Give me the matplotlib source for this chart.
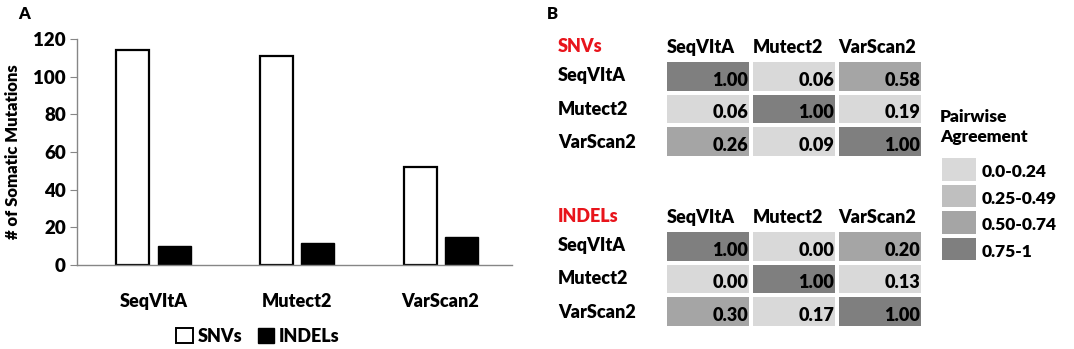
"""Somatic mutation counts and pairwise caller agreement."""

import matplotlib
matplotlib.use("Agg")
import matplotlib.pyplot as plt
import numpy as np
from matplotlib.colors import ListedColormap
from matplotlib.patches import Patch

plt.rcParams["font.family"] = ["Lato", "DejaVu Sans"]
BOLD = 800
plt.rcParams["font.weight"] = BOLD

callers = ["SeqVItA", "Mutect2", "VarScan2"]
snv_counts = [114, 111, 52]
indel_counts = [10, 11.5, 15]

snv_agree = np.array([[1.00, 0.06, 0.58],
                      [0.06, 1.00, 0.19],
                      [0.26, 0.09, 1.00]])
indel_agree = np.array([[1.00, 0.00, 0.20],
                        [0.00, 1.00, 0.13],
                        [0.30, 0.17, 1.00]])
# shade level as drawn in the figure (0 = lightest, 3 = darkest)
snv_level = np.array([[3, 0, 2],
                      [0, 3, 0],
                      [2, 0, 3]])
indel_level = np.array([[3, 0, 2],
                        [0, 3, 0],
                        [2, 0, 3]])
legend_bins = ["0.0-0.24", "0.25-0.49", "0.50-0.74", "0.75-1"]
shades = ["#d9d9d9", "#bfbfbf", "#a5a5a5", "#7f7f7f"]

W, H = 1074, 349
fig = plt.figure(figsize=(W / 100, H / 100), dpi=100)


def px_axes(x0, y0, x1, y1):
    """Axes from pixel box (top-left origin)."""
    return fig.add_axes([x0 / W, 1 - y1 / H, (x1 - x0) / W, (y1 - y0) / H])


# ---- Panel A: bar chart ----
ax = px_axes(77, 39, 512, 265)
x = np.arange(len(callers))
w = 0.23
ax.bar(x - 0.143, snv_counts, w, color="white", edgecolor="black", linewidth=1.6)
ax.bar(x + 0.143, indel_counts, w, color="black", edgecolor="black", linewidth=1.0)
ax.set_xlim(-0.533, 2.498)
ax.set_ylim(0, 120)
ax.set_yticks(range(0, 121, 20))
ax.set_xticks(x)
ax.set_xticklabels(callers, fontsize=13, fontweight=BOLD)
ax.tick_params(axis="x", length=0, pad=20)
ax.tick_params(axis="y", labelsize=13.5, length=5, color="#868686", pad=3)
for lab in ax.get_yticklabels():
    lab.set_fontweight(BOLD)
for s in ["top", "right"]:
    ax.spines[s].set_visible(False)
for s in ["left", "bottom"]:
    ax.spines[s].set_color("#868686")
    ax.spines[s].set_linewidth(1.0)
ax.set_ylabel("# of Somatic Mutations", fontsize=12, fontweight=BOLD, labelpad=9)

handles = [Patch(facecolor="white", edgecolor="black", linewidth=1.4, label="SNVs"),
           Patch(facecolor="black", edgecolor="black", label="INDELs")]
fig.legend(handles=handles, loc="center", bbox_to_anchor=(258 / W, 1 - 336 / H),
           ncol=2, frameon=False, fontsize=13, handlelength=0.9, handleheight=0.9,
           handletextpad=0.25, columnspacing=0.9)

fig.text(18 / W, 1 - 14 / H, "A", fontsize=12, fontweight=BOLD, va="center", ha="left")
fig.text(547 / W, 1 - 14 / H, "B", fontsize=12, fontweight=BOLD, va="center", ha="left")

# ---- Panel B: agreement tables ----
cmap = ListedColormap(shades)


def agreement_table(top, title, values, level):
    hax = px_axes(665, top, 923, top + 98)
    hax.pcolormesh(level, cmap=cmap, vmin=-0.5, vmax=3.5,
                   edgecolors="white", linewidth=1.5)
    hax.set_xlim(0, 3)
    hax.set_ylim(3, 0)
    hax.axis("off")
    for i in range(3):
        for j in range(3):
            hax.text(j + 0.97, i + 0.62, f"{values[i, j]:.2f}", ha="right", va="center",
                     fontsize=13, fontweight=BOLD)
        hax.text(i + 0.02, -0.38, callers[i], ha="left", va="center",
                 fontsize=13, fontweight=BOLD)
        fig.text(558 / W, 1 - (top + 16 + 33 * i) / H, callers[i], ha="left", va="center",
                 fontsize=13, fontweight=BOLD)
    fig.text(558 / W, 1 - (top - 13) / H, title, ha="left", va="center",
             fontsize=13, fontweight=BOLD, color="#e8141b")


agreement_table(60, "SNVs", snv_agree, snv_level)
agreement_table(230, "INDELs", indel_agree, indel_level)

# legend for shades
lax = px_axes(940, 156, 978, 262)
lax.pcolormesh(np.arange(4).reshape(4, 1), cmap=cmap, vmin=-0.5, vmax=3.5,
               edgecolors="white", linewidth=1.5)
lax.set_xlim(0, 1)
lax.set_ylim(4, 0)
lax.axis("off")
for k, lab in enumerate(legend_bins):
    lax.text(1.1, k + 0.62, lab, ha="left", va="center", fontsize=12.5, fontweight=BOLD)
fig.text(940 / W, 1 - 117 / H, "Pairwise", ha="left", va="center", fontsize=12.5, fontweight=BOLD)
fig.text(940 / W, 1 - 137 / H, "Agreement", ha="left", va="center", fontsize=12.5, fontweight=BOLD)

fig.savefig("out.png", dpi=100)
